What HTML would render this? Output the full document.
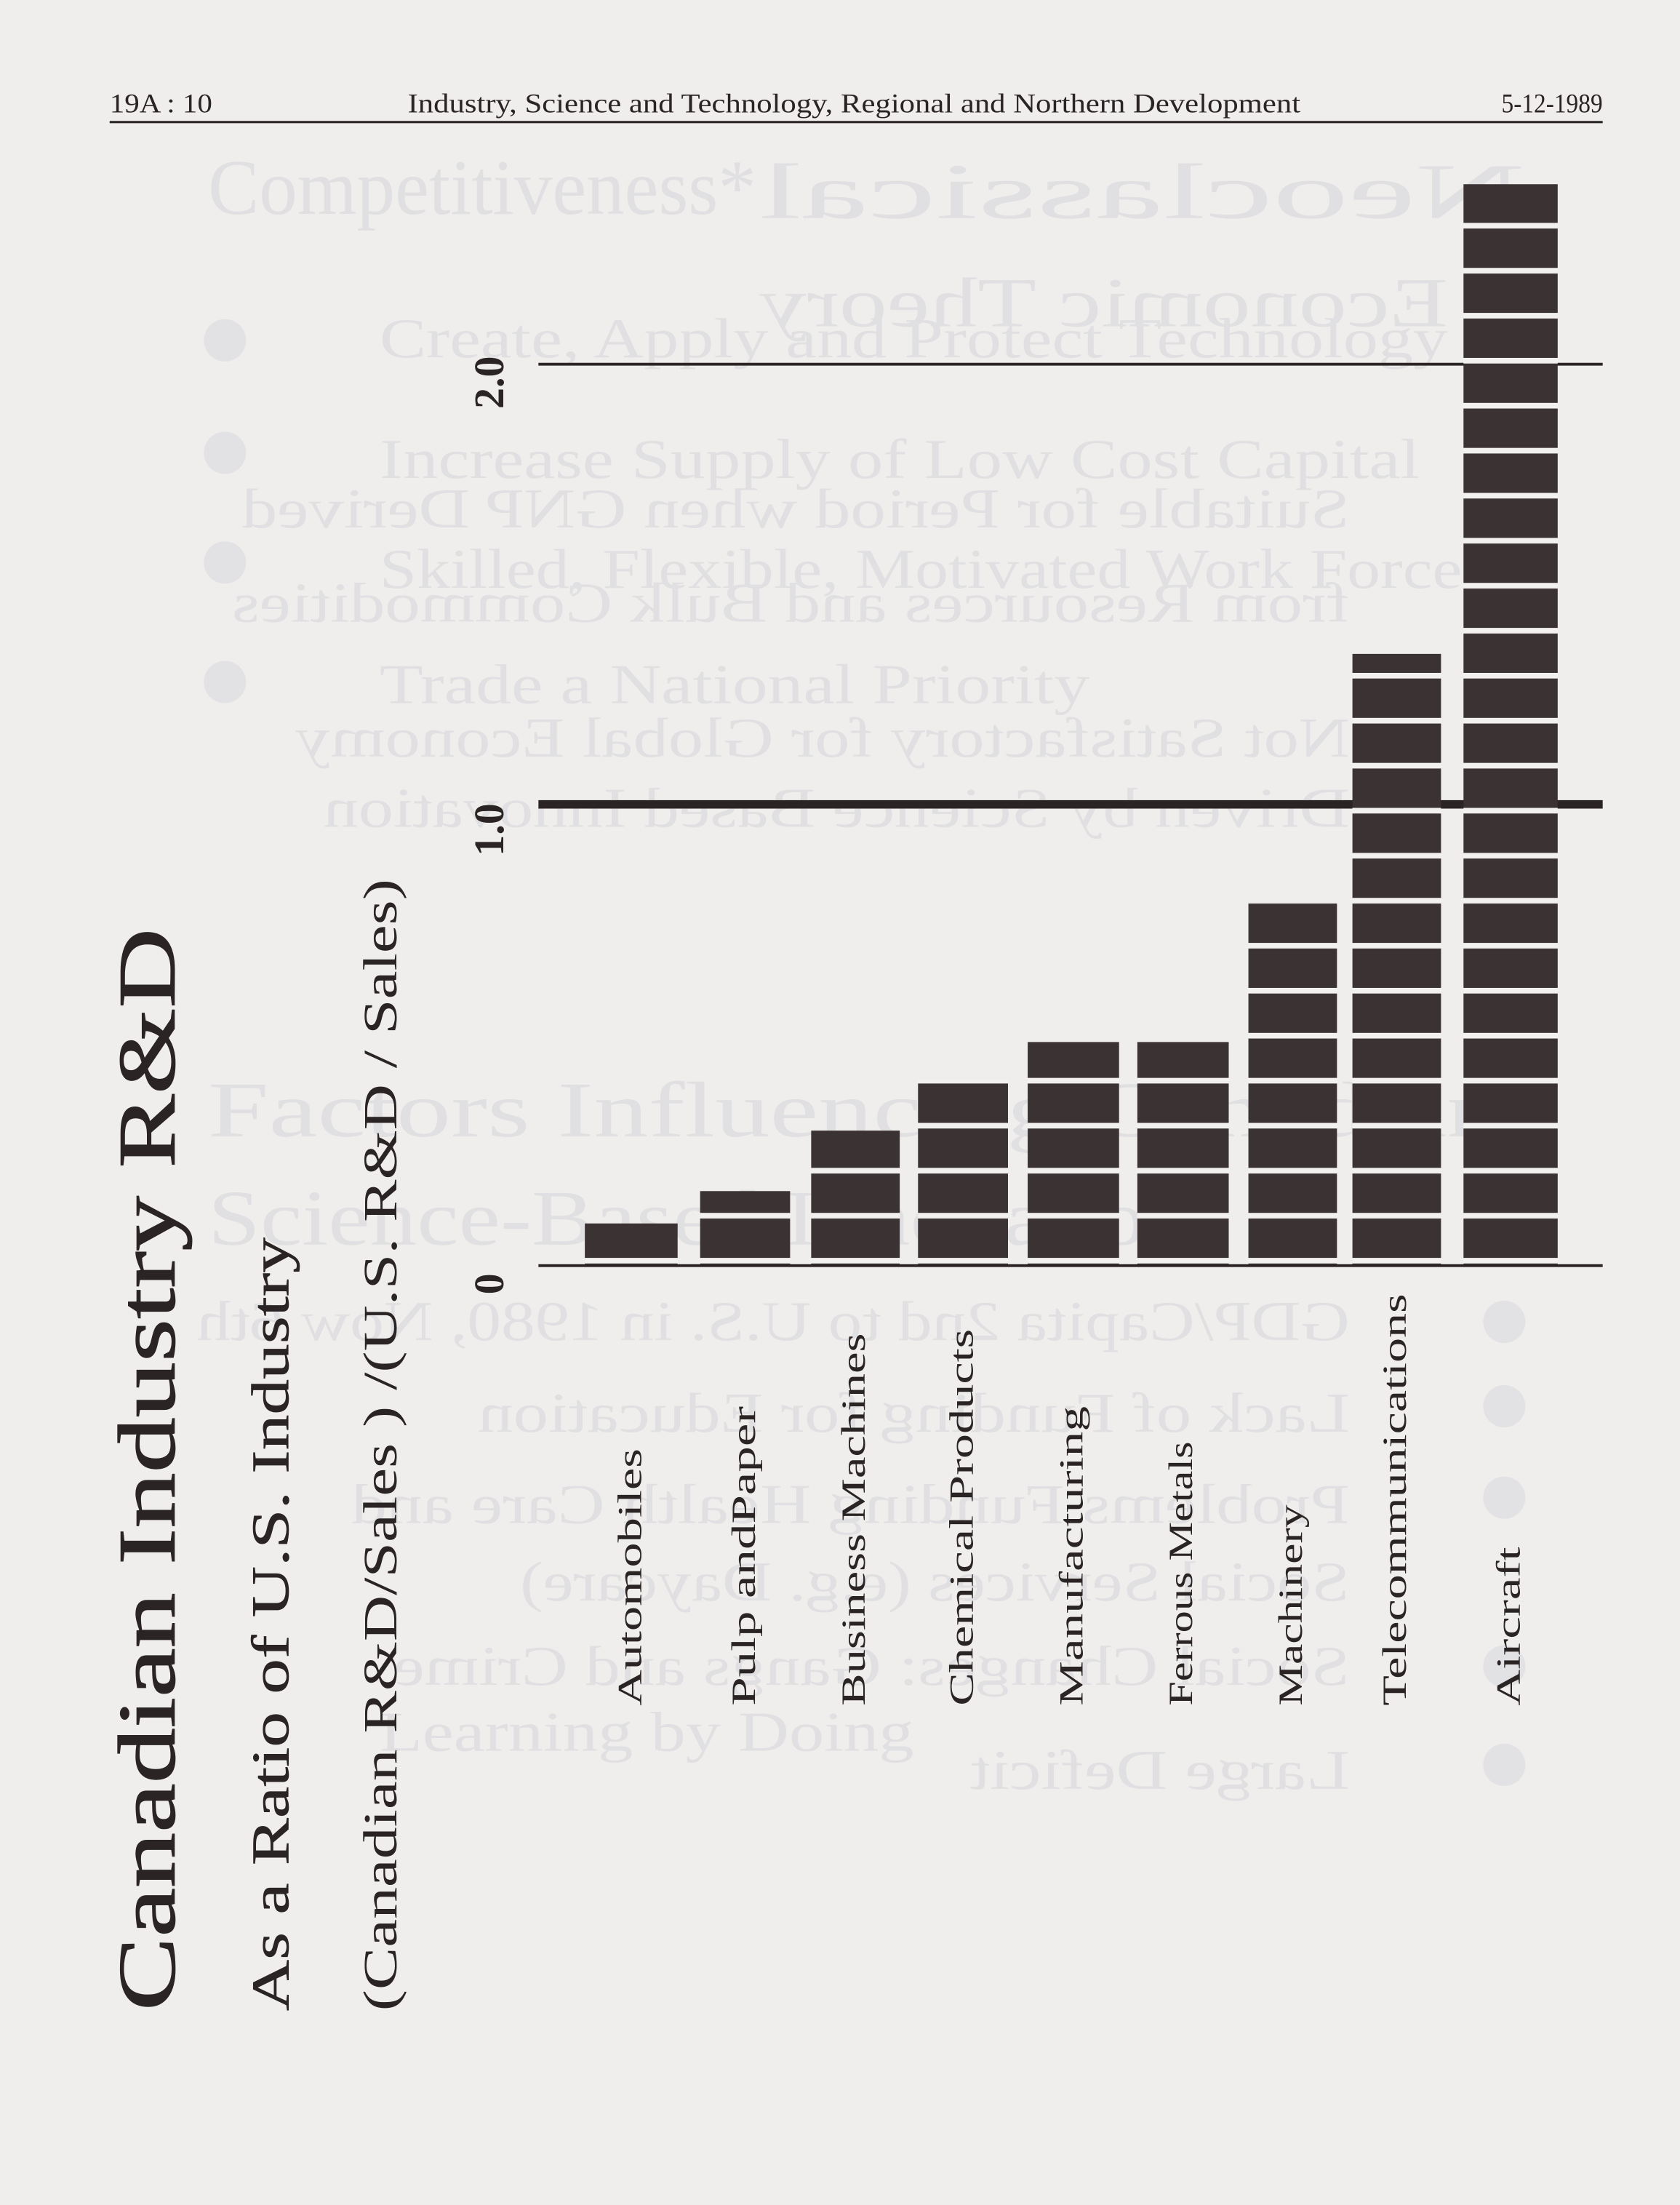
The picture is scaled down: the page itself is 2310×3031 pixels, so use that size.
<!DOCTYPE html>
<html><head><meta charset="utf-8"><style>
html,body{margin:0;padding:0;background:#f0eeec;}
svg{display:block}
.g{fill:#e0dfe1;font-family:"Liberation Serif",serif;}
.k{fill:#2a2424;font-family:"Liberation Serif",serif;}
</style></head><body>
<svg width="2310" height="3031" viewBox="0 0 1195 1568" preserveAspectRatio="none" xmlns="http://www.w3.org/2000/svg">
<defs>
<pattern id="st" x="0" y="670.5" width="2000" height="32" patternUnits="userSpaceOnUse">
<rect x="0" y="0" width="2000" height="32" fill="#3b3333"/>
<rect x="0" y="0" width="2000" height="4" fill="#f3f1ef"/>
</pattern>
</defs>
<rect width="1195" height="1568" fill="#f0eeec"/>
<g class="g">
<text x="148" y="152" font-size="56" textLength="390" lengthAdjust="spacingAndGlyphs">Competitiveness*</text>
<text transform="scale(-1,1)" x="-1085" y="155" font-size="56" textLength="545" lengthAdjust="spacingAndGlyphs">Neoclassical</text>
<text transform="scale(-1,1)" x="-1030" y="232" font-size="50" textLength="490" lengthAdjust="spacingAndGlyphs">Economic Theory</text>
<text x="270" y="254" font-size="40" textLength="760" lengthAdjust="spacingAndGlyphs">Create, Apply and Protect Technology</text>
<text x="270" y="340" font-size="40" textLength="740" lengthAdjust="spacingAndGlyphs">Increase Supply of Low Cost Capital</text>
<text transform="scale(-1,1)" x="-960" y="375" font-size="40" textLength="788" lengthAdjust="spacingAndGlyphs">Suitable for Period when GNP Derived</text>
<text x="270" y="418" font-size="40" textLength="770" lengthAdjust="spacingAndGlyphs">Skilled, Flexible, Motivated Work Force</text>
<text transform="scale(-1,1)" x="-960" y="442" font-size="40" textLength="795" lengthAdjust="spacingAndGlyphs">from Resources and Bulk Commodities</text>
<text x="270" y="500" font-size="40" textLength="505" lengthAdjust="spacingAndGlyphs">Trade a National Priority</text>
<text transform="scale(-1,1)" x="-960" y="538" font-size="40" textLength="750" lengthAdjust="spacingAndGlyphs">Not Satisfactory for Global Economy</text>
<text transform="scale(-1,1)" x="-960" y="588" font-size="40" textLength="730" lengthAdjust="spacingAndGlyphs">Driven by Science Based Innovation</text>
<text x="148" y="808" font-size="56" textLength="920" lengthAdjust="spacingAndGlyphs">Factors Influencing Canadian</text>
<text x="148" y="885" font-size="56" textLength="700" lengthAdjust="spacingAndGlyphs">Science-Based Innovation</text>
<text transform="scale(-1,1)" x="-960" y="953" font-size="40" textLength="820" lengthAdjust="spacingAndGlyphs">GDP/Capita 2nd to U.S. in 1980, Now 6th</text>
<text transform="scale(-1,1)" x="-960" y="1018" font-size="40" textLength="620" lengthAdjust="spacingAndGlyphs">Lack of Funding for Education</text>
<text transform="scale(-1,1)" x="-960" y="1083" font-size="40" textLength="710" lengthAdjust="spacingAndGlyphs">Problems Funding Health Care and</text>
<text transform="scale(-1,1)" x="-960" y="1138" font-size="40" textLength="590" lengthAdjust="spacingAndGlyphs">Social Services (e.g. Daycare)</text>
<text transform="scale(-1,1)" x="-960" y="1198" font-size="40" textLength="680" lengthAdjust="spacingAndGlyphs">Social Changes: Gangs and Crime</text>
<text transform="scale(-1,1)" x="-960" y="1272" font-size="40" textLength="270" lengthAdjust="spacingAndGlyphs">Large Deficit</text>
<text x="270" y="1245" font-size="40" textLength="380" lengthAdjust="spacingAndGlyphs">Learning by Doing</text>
<circle cx="160" cy="242" r="15" fill="#e2e1e3"/><circle cx="160" cy="322" r="15" fill="#e2e1e3"/>
<circle cx="160" cy="400" r="15" fill="#e2e1e3"/><circle cx="160" cy="485" r="15" fill="#e2e1e3"/>
<circle cx="1070" cy="940" r="15" fill="#e2e1e3"/><circle cx="1070" cy="1000" r="15" fill="#e2e1e3"/>
<circle cx="1070" cy="1065" r="15" fill="#e2e1e3"/><circle cx="1070" cy="1185" r="15" fill="#e2e1e3"/>
<circle cx="1070" cy="1255" r="15" fill="#e2e1e3"/>
</g>
<g class="k">
<text x="78" y="80" font-size="19" textLength="73" lengthAdjust="spacingAndGlyphs">19A : 10</text>
<text x="290" y="80" font-size="19" textLength="635" lengthAdjust="spacingAndGlyphs">Industry, Science and Technology, Regional and Northern Development</text>
<text x="1068" y="80" font-size="19" textLength="72" lengthAdjust="spacingAndGlyphs">5-12-1989</text>
</g>
<rect x="78" y="86" width="1062" height="1.6" fill="#2a2424"/>
<rect x="383" y="258" width="757" height="2" fill="#2a2424"/>
<rect x="383" y="569" width="757" height="6" fill="#2a2424"/>
<g fill="url(#st)">
<rect x="416" y="870" width="66" height="30"/>
<rect x="498" y="847" width="64" height="53"/>
<rect x="577" y="804" width="63" height="96"/>
<rect x="653" y="768" width="64" height="132"/>
<rect x="731" y="741" width="65" height="159"/>
<rect x="809" y="741" width="65" height="159"/>
<rect x="888" y="642" width="63" height="258"/>
<rect x="962" y="465" width="63" height="435"/>
<rect x="1041" y="131" width="67" height="769"/>
</g>
<rect x="383" y="899" width="757" height="2" fill="#2a2424"/>
<g class="k" font-weight="bold" font-size="30" text-anchor="middle">
<text transform="translate(358,272) rotate(-90)">2.0</text>
<text transform="translate(358,590) rotate(-90)">1.0</text>
<text transform="translate(358,913) rotate(-90)">0</text>
</g>
<g class="k">
<text transform="translate(124,1430) rotate(-90)" font-size="58" textLength="770" lengthAdjust="spacingAndGlyphs" stroke="#2a2424" stroke-width="0.6">Canadian Industry R&amp;D</text>
<text transform="translate(205,1430) rotate(-90)" font-size="38" textLength="550" lengthAdjust="spacingAndGlyphs" stroke="#2a2424" stroke-width="0.3">As a Ratio of U.S. Industry</text>
<text transform="translate(282,1430) rotate(-90)" font-size="34" textLength="805" lengthAdjust="spacingAndGlyphs">(Canadian R&amp;D/Sales ) /(U.S. R&amp;D / Sales)</text>
</g>
<g class="k" font-size="24">
<text transform="translate(456,1213) rotate(-90)" textLength="183" lengthAdjust="spacingAndGlyphs">Automobiles</text>
<text transform="translate(537,1213) rotate(-90)" textLength="213" lengthAdjust="spacingAndGlyphs">Pulp andPaper</text>
<text transform="translate(615,1213) rotate(-90)" textLength="265" lengthAdjust="spacingAndGlyphs">Business Machines</text>
<text transform="translate(692,1213) rotate(-90)" textLength="268" lengthAdjust="spacingAndGlyphs">Chemical Products</text>
<text transform="translate(770,1213) rotate(-90)" textLength="213" lengthAdjust="spacingAndGlyphs">Manufacturing</text>
<text transform="translate(848,1213) rotate(-90)" textLength="188" lengthAdjust="spacingAndGlyphs">Ferrous Metals</text>
<text transform="translate(926,1213) rotate(-90)" textLength="143" lengthAdjust="spacingAndGlyphs">Machinery</text>
<text transform="translate(1000,1213) rotate(-90)" textLength="293" lengthAdjust="spacingAndGlyphs">Telecommunications</text>
<text transform="translate(1081,1213) rotate(-90)" textLength="113" lengthAdjust="spacingAndGlyphs">Aircraft</text>
</g>
</svg>
</body></html>
